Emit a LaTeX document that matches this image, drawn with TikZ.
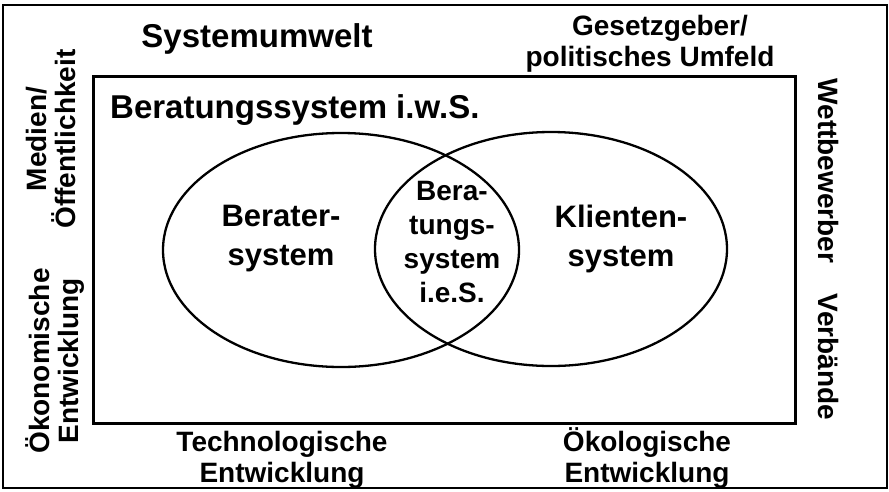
\documentclass[tikz,border=0pt]{standalone}
\usepackage{fontspec}
\setmainfont{Liberation Sans}

\begin{document}
\begin{tikzpicture}[x=1pt,y=-1pt,
  side/.style={font=\bfseries\fontsize{28}{31}\selectfont,align=center,inner sep=0pt},
  turned/.style={font=\bfseries\fontsize{28}{29}\selectfont,align=center,inner sep=0pt},
  head/.style={font=\bfseries\fontsize{33}{38}\selectfont,inner sep=0pt},
  sys/.style={font=\bfseries\fontsize{31}{39}\selectfont,align=center,inner sep=0pt},
  lens/.style={font=\bfseries\fontsize{28}{34}\selectfont,align=center,inner sep=0pt}]
\useasboundingbox (0,0) rectangle (889,491);
\draw[line width=1.5pt] (3,5) rectangle (887,488);
\draw[line width=3pt] (93,76) rectangle (795,423);
\draw[line width=2.3pt] (341,250) ellipse [x radius=178pt, y radius=117pt];
\draw[line width=2.3pt] (551,249) ellipse [x radius=176pt, y radius=117pt];

\node[head,anchor=base] (umwelt) at (257,47) {Systemumwelt};
\node[head,anchor=base west] (iws) at (110,118) {Beratungssystem i.w.S.};
\node[side] (gesetz) at (650,44) {\hspace*{20pt}Gesetzgeber/\\politisches Umfeld};
\node[side] (techno) at (282,460) {Technologische\\Entwicklung};
\node[side] (oeko) at (647,458) {Ökologische\\Entwicklung};
\node[turned,rotate=90] (medien) at (51,139) {Medien/\\Öffentlichkeit};
\node[turned,rotate=90] (oekon) at (55,361) {Ökonomische\\Entwicklung};
\node[side,rotate=-90] (wettb) at (828,171) {Wettbewerber};
\node[side,rotate=-90] (verb) at (828,357) {Verbände};

\node[sys] (berater) at (281,239) {Berater-\\system};
\node[sys] (klient) at (621,239) {Klienten-\\system};
\node[lens] (ies) at (452,242) {Bera-\\tungs-\\system\\i.e.S.};
\end{tikzpicture}
\end{document}
